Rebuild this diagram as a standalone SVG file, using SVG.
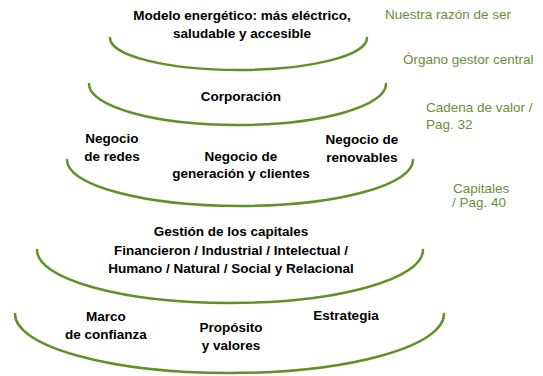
<svg xmlns="http://www.w3.org/2000/svg" width="543" height="376" viewBox="0 0 543 376">
<style>
.arc{fill:none;stroke:#5e9126;stroke-width:2.5;stroke-linecap:round}
.b{font-family:"Liberation Sans",Arial,sans-serif;font-weight:bold;font-size:13.5px;fill:#000;text-anchor:middle}
.g{font-family:"Liberation Sans",Arial,sans-serif;font-size:13.5px;fill:#65903a}
</style>
<rect width="543" height="376" fill="#fff"/>
<g id="connectors">
<path class="arc" d="M110 38 A128.5 32 0 0 0 367 38"/>
<path class="arc" d="M89 84 A148.5 41 0 0 0 386 84"/>
<path class="arc" d="M67 160 A173 46 0 0 0 413 160"/>
<path class="arc" d="M37 250 A193 53 0 0 0 423 250"/>
<path class="arc" d="M15 314 A214.5 59 0 0 0 444 314"/>
</g>
<g id="n1"><text class="b" x="242" y="20">Modelo energético: más eléctrico,</text><text class="b" x="242" y="38">saludable y accesible</text></g>
<g id="n2"><text class="b" x="241" y="101">Corporación</text></g>
<g id="n3"><text class="b" x="112" y="143">Negocio</text><text class="b" x="112" y="161">de redes</text></g>
<g id="n4"><text class="b" x="241" y="161">Negocio de</text><text class="b" x="241" y="178">generación y clientes</text></g>
<g id="n5"><text class="b" x="362" y="144">Negocio de</text><text class="b" x="362" y="162">renovables</text></g>
<g id="n6"><text class="b" x="231" y="236">Gestión de los capitales</text><text class="b" x="231" y="255">Financieron / Industrial / Intelectual /</text><text class="b" x="231" y="273">Humano / Natural / Social y Relacional</text></g>
<g id="n7"><text class="b" x="106" y="321">Marco</text><text class="b" x="106" y="339">de confianza</text></g>
<g id="n8"><text class="b" x="231" y="332">Propósito</text><text class="b" x="231" y="350">y valores</text></g>
<g id="n9"><text class="b" x="346" y="320">Estrategia</text></g>
<g id="l1"><text class="g" x="385" y="19">Nuestra razón de ser</text></g>
<g id="l2"><text class="g" x="403" y="64">Órgano gestor central</text></g>
<g id="l3"><text class="g" x="426" y="112">Cadena de valor /</text><text class="g" x="426" y="129">Pag. 32</text></g>
<g id="l4"><text class="g" x="453" y="193">Capitales</text><text class="g" x="452" y="207">/ Pag. 40</text></g>
</svg>
